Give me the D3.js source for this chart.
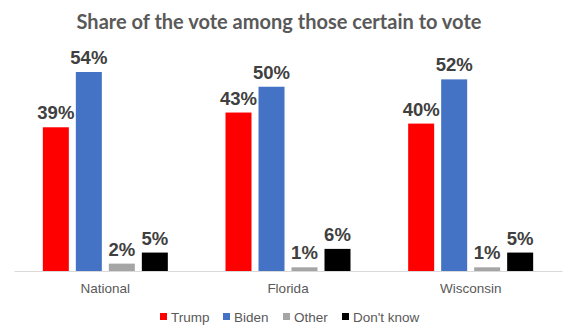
<!DOCTYPE html>
<html>
<head>
<meta charset="utf-8">
<script src="https://cdn.jsdelivr.net/npm/d3@7"></script>
<style>
  body { margin: 0; background: #fff; }
  svg { display: block; }
</style>
</head>
<body>
<script>
var regions = ["National", "Florida", "Wisconsin"];
var series = ["Trump", "Biden", "Other", "Don't know"];
var trump = [39, 43, 40];
var biden = [54, 50, 52];
var other = [2, 1, 1];
var dontKnow = [5, 6, 5];
var colors = ["#ff0000", "#4472c4", "#a5a5a5", "#000000"];

var data = regions.map(function(r, i) {
	return { region: r, values: [trump[i], biden[i], other[i], dontKnow[i]] };
});

var width = 576, height = 336;
var svg = d3.select("body").append("svg")
	.attr("width", width)
	.attr("height", height);

// title
svg.append("text")
	.attr("x", 279)
	.attr("y", 29)
	.attr("text-anchor", "middle")
	.attr("font-family", "Lato, 'DejaVu Sans', sans-serif")
	.attr("font-weight", "bold")
	.attr("font-size", "20px")
	.attr("fill", "#595959")
	.text("Share of the vote among those certain to vote");

// scales
var groupW = 125;
var x0 = d3.scaleBand().domain(regions).range([14, 562]);
var x1 = d3.scaleBand().domain(series).range([0, groupW]).paddingInner(0.212).paddingOuter(0);
var y = d3.scaleLinear().domain([0, 54]).range([271, 72]);

var groups = svg.selectAll(".group").data(data)
	.enter().append("g")
	.attr("class", "group")
	.attr("transform", function(d) {
		return "translate(" + (x0(d.region) + x0.bandwidth() / 2 - groupW / 2) + ",0)";
	});

groups.selectAll("rect").data(function(d) { return d.values; })
	.enter().append("rect")
	.attr("x", function(d, i) { return x1(series[i]); })
	.attr("width", x1.bandwidth())
	.attr("y", function(d) { return y(d); })
	.attr("height", function(d) { return y(0) - y(d); })
	.attr("fill", function(d, i) { return colors[i]; });

groups.selectAll(".label").data(function(d) { return d.values; })
	.enter().append("text")
	.attr("class", "label")
	.attr("x", function(d, i) { return x1(series[i]) + x1.bandwidth() / 2; })
	.attr("y", function(d) { return y(d) - 8; })
	.attr("text-anchor", "middle")
	.attr("font-family", "'Liberation Sans', Arial, sans-serif")
	.attr("font-weight", "bold")
	.attr("font-size", "18.5px")
	.attr("fill", "#404040")
	.text(function(d) { return d + "%"; });

// x axis
var xAxis = svg.append("g")
	.attr("transform", "translate(0,271)")
	.call(d3.axisBottom(x0).tickSize(0).tickPadding(12));
xAxis.select(".domain").attr("stroke", "#d9d9d9");
xAxis.selectAll("text")
	.attr("font-family", "'Liberation Sans', Arial, sans-serif")
	.attr("font-size", "13.5px")
	.attr("fill", "#595959");

// legend
var legendX = [160, 223, 283, 342];
var legend = svg.selectAll(".legend").data(series)
	.enter().append("g")
	.attr("class", "legend")
	.attr("transform", function(d, i) { return "translate(" + legendX[i] + ",316)"; });
legend.append("rect")
	.attr("x", 0).attr("y", -3)
	.attr("width", 7).attr("height", 7)
	.attr("fill", function(d, i) { return colors[i]; });
legend.append("text")
	.attr("x", 11)
	.attr("y", 5.5)
	.attr("font-family", "'Liberation Sans', Arial, sans-serif")
	.attr("font-size", "13.5px")
	.attr("fill", "#595959")
	.text(function(d) { return d; });
</script>
</body>
</html>
